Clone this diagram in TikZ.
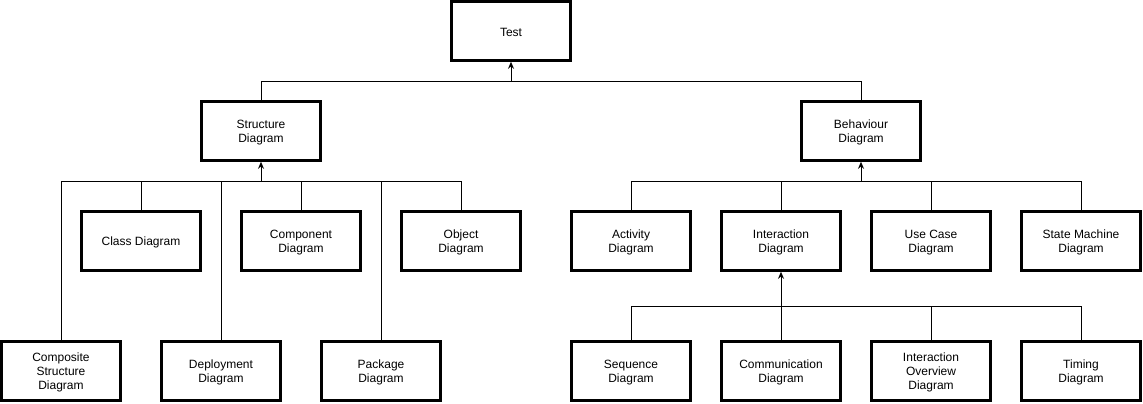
\documentclass[tikz,border=0pt]{standalone}
\usepackage{fontspec}
\setmainfont{Liberation Sans}
\usetikzlibrary{arrows.meta}
\begin{document}
\begin{tikzpicture}[x=1pt,y=-1pt,
  lbl/.style={align=center,font=\fontsize{12}{14}\selectfont,inner sep=0pt,yshift=-1.5pt},
  box/.style={draw=black,line width=2.6pt,fill=white,minimum width=119pt,minimum height=59pt,
    inner sep=0pt,label={[lbl]center:{#1}}},
  conn/.style={draw=black,line width=1pt},
  arr/.style={conn,-{Stealth[length=7pt,width=6pt]}}]
\useasboundingbox (0,0) rectangle (1143,404);
\node[box={Test}] (test) at (511,31) {};
\node[box={Structure\\Diagram}] (struct) at (261,131) {};
\node[box={Behaviour\\Diagram}] (behav) at (861,131) {};
\node[box={Class Diagram}] (class) at (141,241) {};
\node[box={Component\\Diagram}] (comp) at (301,241) {};
\node[box={Object\\Diagram}] (obj) at (461,241) {};
\node[box={Composite\\Structure\\Diagram}] (csd) at (61,371) {};
\node[box={Deployment\\Diagram}] (depl) at (221,371) {};
\node[box={Package\\Diagram}] (pack) at (381,371) {};
\node[box={Activity\\Diagram}] (act) at (631,241) {};
\node[box={Interaction\\Diagram}] (inter) at (781,241) {};
\node[box={Use Case\\Diagram}] (uc) at (931,241) {};
\node[box={State Machine\\Diagram}] (sm) at (1081,241) {};
\node[box={Sequence\\Diagram}] (seq) at (631,371) {};
\node[box={Communication\\Diagram}] (commu) at (781,371) {};
\node[box={Interaction\\Overview\\Diagram}] (iod) at (931,371) {};
\node[box={Timing\\Diagram}] (tim) at (1081,371) {};
% bus coordinates
\coordinate (busA) at (511,81);
\coordinate (busS) at (261,181);
\coordinate (busB) at (861,181);
\coordinate (busI) at (781,306);
% Test level
\foreach \c in {struct,behav}
  \draw[conn] (\c.north) |- (busA);
\draw[arr] (busA) -- (test.south);
% Structure level
\foreach \c in {class,comp,obj,csd,depl,pack}
  \draw[conn] (\c.north) |- (busS);
\draw[arr] (busS) -- (struct.south);
% Behaviour level
\foreach \c in {act,inter,uc,sm}
  \draw[conn] (\c.north) |- (busB);
\draw[arr] (busB) -- (behav.south);
% Interaction level
\foreach \c in {seq,commu,iod,tim}
  \draw[conn] (\c.north) |- (busI);
\draw[arr] (busI) -- (inter.south);
\end{tikzpicture}
\end{document}
